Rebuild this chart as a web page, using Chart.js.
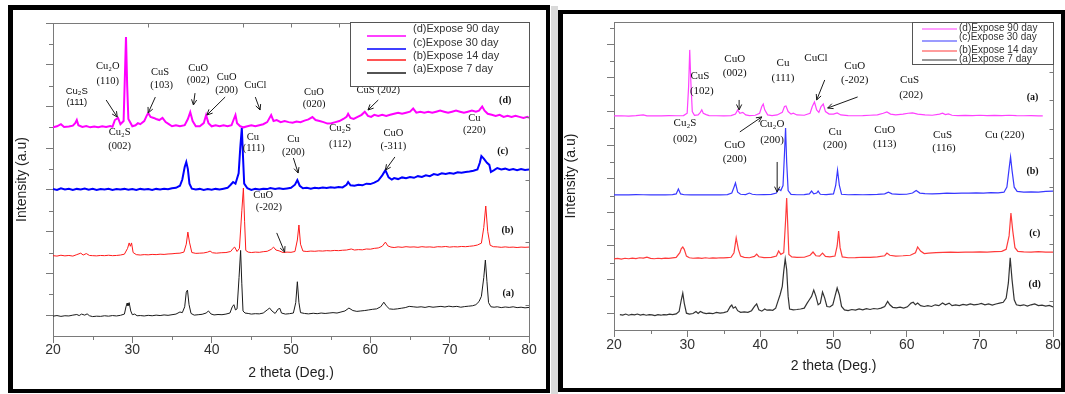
<!DOCTYPE html>
<html>
<head>
<meta charset="utf-8">
<script src="https://cdn.jsdelivr.net/npm/chart.js@4.4.0/dist/chart.umd.min.js"></script>
<style>
  html, body { margin: 0; padding: 0; background: #fff; }
  body { width: 1065px; height: 394px; position: relative; overflow: hidden; }
  .box { position: absolute; box-sizing: border-box; border: 4px solid #000; }
  #boxL { left: 8px; top: 5px; width: 542px; height: 388px; border-left-width: 5px; border-top-width: 5px; }
  #boxR { left: 558px; top: 10px; width: 507px; height: 382px; border-left-width: 5px; }
  #shade { position: absolute; left: 551px; top: 6px; width: 7px; height: 388px; background: #dadada; }
  canvas { position: absolute; top: 0; }
  #chartL { left: 0; }
  #chartR { left: 550px; }
</style>
</head>
<body>
<div id="shade"></div>
<div class="box" id="boxL"></div>
<div class="box" id="boxR"></div>
<canvas id="chartL" width="550" height="394"></canvas>
<canvas id="chartR" width="515" height="394"></canvas>
<script>
const xTicks = [20, 30, 40, 50, 60, 70, 80];
const seriesLabels = ['(d)Expose 90 day', '(c)Expose 30 day', '(b)Expose 14 day', '(a)Expose 7 day'];

// ---- left figure: [2 theta, intensity (stacked, a.u.)]
const L90 = [[20,10.0],[20.5,10.05],[21,10.15],[21.4,10.02],[22,10.04],[22.5,10.08],[22.8,10.2],[23,10.35],[23.2,10.1],[23.7,10.02],[24.2,10.06],[24.7,10.0],[25.2,10.04],[25.7,10.01],[26.2,10.05],[26.7,10.02],[27.2,10.06],[27.5,10.03],[27.8,10.35],[28.2,10.45],[28.5,10.15],[28.9,10.3],[29.05,12.3],[29.2,14.33],[29.35,12.0],[29.5,10.4],[30,10.05],[30.4,10.1],[30.7,10.2],[31,10.15],[31.5,10.3],[31.8,10.55],[32,10.69],[32.3,10.5],[32.7,10.45],[33,10.4],[33.4,10.35],[33.8,10.45],[34.2,10.25],[34.6,10.15],[35,10.05],[35.5,10.1],[36,10.05],[36.6,10.1],[37,10.4],[37.3,10.73],[37.6,10.3],[38,10.05],[38.5,10.05],[39,10.2],[39.3,10.59],[39.6,10.2],[40,10.05],[40.5,10.1],[41,10.05],[41.5,10.1],[42,10.05],[42.5,10.1],[42.8,10.4],[43,10.59],[43.2,10.2],[43.6,10.05],[44,10.0],[44.5,10.05],[45,10.1],[45.5,10.05],[46,10.1],[46.5,10.15],[47,10.25],[47.5,10.59],[47.8,10.3],[48.2,10.35],[48.7,10.25],[49.2,10.3],[49.7,10.25],[50.2,10.22],[50.7,10.28],[51.2,10.25],[51.7,10.32],[52.2,10.38],[52.7,10.49],[53.1,10.35],[53.6,10.3],[54.1,10.25],[54.6,10.18],[55.1,10.2],[55.6,10.25],[56.1,10.3],[56.6,10.4],[57,10.5],[57.2,10.65],[57.5,10.45],[57.9,10.4],[58.4,10.5],[58.9,10.6],[59.3,10.75],[59.7,10.55],[60.1,10.5],[60.5,10.6],[61,10.55],[61.5,10.6],[62,10.55],[62.5,10.6],[63,10.65],[63.5,10.7],[64,10.65],[64.5,10.7],[65,10.75],[65.4,10.9],[65.8,10.7],[66.3,10.75],[66.8,10.7],[67.3,10.75],[67.8,10.7],[68.3,10.75],[68.8,10.8],[69.3,10.75],[69.8,10.7],[70.3,10.75],[70.8,10.8],[71.3,10.75],[71.8,10.7],[72.3,10.75],[72.8,10.8],[73.3,10.75],[73.7,10.8],[74.1,11.0],[74.4,10.8],[74.8,10.65],[75.3,10.6],[75.8,10.55],[76.3,10.6],[76.8,10.5],[77.3,10.55],[77.8,10.5],[78.3,10.55],[78.8,10.5],[79.3,10.45],[79.8,10.5],[80,10.45]];
const L30 = [[20,7.04],[20.5,7.0],[21,7.08],[21.5,7.02],[22,7.06],[22.5,7.0],[23,7.05],[23.5,7.02],[24,7.07],[24.5,7.01],[25,7.05],[25.5,7.0],[26,7.04],[26.5,7.02],[27,7.06],[27.5,7.0],[28,7.04],[28.5,7.02],[29,7.05],[29.5,7.01],[30,7.04],[30.5,7.0],[31,7.05],[31.5,7.02],[32,7.04],[32.5,7.0],[33,7.05],[33.5,7.02],[34,7.06],[34.5,7.03],[35,7.08],[35.5,7.1],[36,7.2],[36.3,7.5],[36.6,8.1],[36.8,8.34],[37,8.0],[37.2,7.3],[37.5,7.06],[38,7.02],[38.5,7.05],[39,7.0],[39.5,7.04],[40,7.01],[40.5,7.05],[41,7.02],[41.5,7.06],[42,7.1],[42.4,7.25],[42.7,7.38],[43,7.3],[43.4,7.8],[43.6,9.0],[43.8,9.97],[43.95,8.6],[44.1,7.3],[44.5,7.08],[45,7.0],[45.5,7.05],[46,7.02],[46.5,7.06],[47,7.04],[47.4,7.09],[48,7.05],[48.5,7.08],[49,7.04],[49.5,7.07],[50,7.1],[50.5,7.25],[50.8,7.47],[51.1,7.2],[51.5,7.08],[52,7.1],[52.5,7.06],[53,7.1],[53.5,7.08],[54,7.12],[54.5,7.09],[55,7.13],[55.5,7.1],[56,7.14],[56.5,7.12],[57,7.25],[57.2,7.38],[57.5,7.22],[58,7.2],[58.5,7.25],[59,7.22],[59.5,7.3],[60,7.28],[60.5,7.35],[61,7.45],[61.5,7.7],[61.9,7.95],[62.3,7.6],[62.7,7.5],[63,7.57],[63.5,7.52],[64,7.6],[64.5,7.56],[65,7.62],[65.5,7.58],[66,7.66],[66.5,7.62],[67,7.7],[67.5,7.66],[68,7.76],[68.5,7.72],[69,7.8],[69.5,7.76],[70,7.81],[70.5,7.78],[71,7.85],[71.5,7.82],[72,7.86],[72.5,7.88],[73,7.92],[73.5,7.98],[73.8,8.3],[74,8.62],[74.3,8.5],[74.7,8.3],[75,8.2],[75.2,7.86],[75.6,7.95],[76,8.05],[76.5,7.98],[77,8.02],[77.5,7.96],[78,8.0],[78.5,7.94],[79,8.0],[79.5,7.96],[80,7.98]];
const L14 = [[20,3.85],[20.5,3.83],[21,3.87],[21.5,3.84],[22,3.86],[22.5,3.83],[23,3.9],[23.5,3.97],[23.8,3.88],[24.2,3.95],[24.6,3.86],[25,3.85],[25.5,3.84],[26,3.86],[26.5,3.85],[27,3.87],[27.5,3.85],[28,3.86],[28.5,3.88],[29,3.92],[29.4,4.2],[29.6,4.46],[29.75,4.3],[29.9,4.46],[30.1,4.0],[30.5,3.9],[31,3.88],[31.5,3.9],[32,3.89],[32.5,3.91],[33,3.9],[33.5,3.92],[34,3.91],[34.5,3.93],[35,3.94],[35.5,3.96],[36,3.97],[36.5,4.02],[36.8,4.4],[37.0,4.98],[37.2,4.5],[37.5,4.0],[38,3.96],[38.5,3.97],[39,3.98],[39.5,4.02],[39.8,4.07],[40.1,3.99],[40.6,3.97],[41.2,3.99],[41.8,4.0],[42.4,4.05],[42.7,4.2],[42.9,4.26],[43.2,4.05],[43.5,4.2],[43.8,6.0],[44.0,7.09],[44.15,5.5],[44.3,4.1],[44.6,4.02],[45,4.0],[45.5,4.02],[46,4.01],[46.5,4.04],[47,4.06],[47.5,4.15],[47.8,4.26],[48.1,4.12],[48.5,4.08],[49,4.0],[49.5,4.02],[50,4.01],[50.5,4.05],[50.8,4.6],[51,5.32],[51.2,4.4],[51.5,4.07],[52,4.05],[52.5,4.07],[53,4.06],[53.5,4.08],[54,4.07],[54.5,4.09],[55,4.08],[55.5,4.1],[56,4.09],[56.5,4.11],[57,4.12],[57.6,4.17],[58,4.12],[58.5,4.14],[59,4.13],[59.5,4.17],[60,4.16],[60.5,4.2],[61,4.22],[61.5,4.3],[61.9,4.5],[62.2,4.32],[62.6,4.26],[63,4.24],[63.5,4.27],[64,4.25],[64.5,4.28],[65,4.26],[65.5,4.27],[66,4.25],[66.5,4.28],[67,4.26],[67.5,4.27],[68,4.25],[68.5,4.28],[69,4.27],[69.5,4.29],[70,4.26],[70.5,4.28],[71,4.27],[71.5,4.29],[72,4.28],[72.5,4.3],[73,4.32],[73.5,4.36],[74,4.45],[74.3,5.2],[74.55,6.23],[74.8,5.0],[75.1,4.35],[75.5,4.28],[76,4.27],[76.5,4.25],[77,4.27],[77.5,4.25],[78,4.26],[78.5,4.24],[79,4.26],[79.5,4.25],[80,4.26]];
const L7 = [[20,0.95],[20.5,0.98],[21,0.94],[21.5,0.97],[22,0.96],[22.5,1.0],[23,1.03],[23.3,0.98],[23.6,1.05],[24,1.0],[24.3,1.06],[24.6,0.97],[25,0.93],[25.5,0.95],[26,0.94],[26.5,0.97],[27,0.95],[27.5,0.98],[28,0.96],[28.5,0.99],[29,1.05],[29.2,1.4],[29.35,1.58],[29.45,1.45],[29.6,1.6],[29.8,1.2],[30,1.02],[30.3,1.05],[30.6,0.97],[31,0.98],[31.5,0.96],[32,0.99],[32.5,0.97],[33,1.0],[33.5,0.98],[34,1.01],[34.5,0.99],[35,1.02],[35.5,1.05],[36,1.15],[36.3,1.12],[36.6,1.4],[36.8,2.1],[36.95,2.2],[37.15,1.5],[37.4,1.08],[37.8,1.0],[38.3,1.02],[38.8,1.04],[39.3,1.1],[39.6,1.2],[39.9,1.06],[40.3,1.01],[40.8,1.03],[41.3,1.02],[41.8,1.05],[42.3,1.1],[42.6,1.4],[42.8,1.5],[43.0,1.25],[43.2,1.3],[43.45,2.8],[43.65,4.1],[43.8,2.5],[43.95,1.2],[44.2,1.1],[44.6,1.08],[45,1.05],[45.5,1.07],[46,1.06],[46.5,1.1],[47,1.25],[47.3,1.34],[47.6,1.2],[48,1.08],[48.4,1.3],[48.6,1.32],[48.8,1.1],[49.3,1.05],[49.8,1.07],[50.3,1.1],[50.6,1.6],[50.8,2.6],[51,1.6],[51.2,1.12],[51.7,1.08],[52.2,1.06],[52.8,1.09],[53.3,1.07],[53.8,1.1],[54.3,1.08],[54.8,1.1],[55.3,1.12],[55.8,1.1],[56.3,1.15],[56.8,1.2],[57.3,1.34],[57.8,1.22],[58.3,1.18],[58.8,1.2],[59.3,1.22],[59.8,1.25],[60.3,1.28],[60.8,1.3],[61.3,1.4],[61.7,1.62],[62,1.45],[62.4,1.3],[62.9,1.28],[63.4,1.3],[63.9,1.33],[64.4,1.36],[64.9,1.42],[65.4,1.4],[65.9,1.38],[66.4,1.4],[66.9,1.37],[67.4,1.41],[67.9,1.38],[68.4,1.4],[68.9,1.42],[69.4,1.39],[69.9,1.43],[70.4,1.4],[70.9,1.42],[71.4,1.38],[71.9,1.41],[72.4,1.43],[72.9,1.45],[73.3,1.5],[73.7,1.65],[74,1.9],[74.3,2.8],[74.5,3.64],[74.7,2.6],[74.9,1.6],[75.2,1.4],[75.6,1.38],[76,1.4],[76.5,1.36],[77,1.39],[77.5,1.37],[78,1.4],[78.5,1.36],[79,1.38],[79.5,1.35],[80,1.37]];

const leftTags = [['(d)', 77.0, 11.3], ['(c)', 76.7, 8.86], ['(b)', 77.3, 5.08], ['(a)', 77.4, 2.06]];
const leftNotes = [
  ['Cu\u2082S', 23.0, 11.74, 'sans'], ['(111)', 23.0, 11.21, 'sans'],
  ['Cu\u2082O', 26.9, 12.94], ['(110)', 26.9, 12.22],
  ['CuS', 33.5, 12.65], ['(103)', 33.7, 12.03],
  ['CuO', 38.3, 12.84], ['(002)', 38.3, 12.27],
  ['CuO', 41.9, 12.41], ['(200)', 41.9, 11.79],
  ['CuCl', 45.5, 12.03],
  ['Cu\u2082S', 28.4, 9.77], ['(002)', 28.4, 9.10],
  ['Cu', 45.2, 9.54], ['(111)', 45.3, 9.01],
  ['CuO', 52.9, 11.69], ['(020)', 52.9, 11.12],
  ['CuS (202)', 61.0, 11.79],
  ['Cu\u2082S', 56.2, 9.97], ['(112)', 56.2, 9.2],
  ['CuO', 62.9, 9.73], ['(-311)', 62.9, 9.10],
  ['Cu', 73.1, 10.45], ['(220)', 73.1, 9.87],
  ['Cu', 50.3, 9.44], ['(200)', 50.3, 8.82],
  ['CuO', 46.5, 6.76], ['(-202)', 47.2, 6.18]
];
const leftArrows = [
  [26.7, 11.31, 28.1, 10.49], [32.9, 11.45, 32.0, 10.69], [37.9, 11.64, 37.7, 11.07],
  [41.7, 11.45, 39.4, 10.59], [45.5, 11.45, 46.1, 10.83], [61.0, 11.31, 59.7, 10.83],
  [63.1, 8.58, 61.9, 7.95], [50.3, 8.53, 50.9, 7.81], [48.2, 4.94, 49.2, 4.02]
];

// ---- right figure
const R90 = [[20,12.74],[21,12.75],[22,12.73],[23,12.76],[24,12.8],[24.5,12.74],[25.5,12.75],[26.5,12.74],[27.5,12.76],[28.5,12.75],[29.5,12.76],[30,12.9],[30.2,14.5],[30.35,16.67],[30.5,14.8],[30.7,13.0],[31,12.78],[31.5,12.8],[31.8,12.95],[32,13.1],[32.2,12.9],[32.6,12.82],[33,12.76],[34,12.75],[35,12.74],[36,12.76],[36.6,12.85],[36.9,13.1],[37.2,12.9],[37.6,12.95],[38,12.8],[38.5,12.76],[39.3,12.78],[39.9,12.9],[40.2,13.3],[40.4,13.45],[40.6,13.1],[41,12.8],[41.6,12.76],[42.3,12.8],[43,12.95],[43.3,13.3],[43.5,13.33],[43.8,13.0],[44.2,12.85],[44.5,12.9],[45,12.8],[46,12.78],[46.8,12.9],[47.1,13.3],[47.4,13.57],[47.7,13.1],[48,12.95],[48.3,13.3],[48.6,13.45],[48.9,13.0],[49.4,12.85],[50,12.85],[50.5,12.92],[51,12.8],[52,12.76],[53,12.75],[54,12.76],[55,12.78],[56,12.8],[56.8,12.9],[57.3,12.98],[57.8,12.85],[58.5,12.8],[59.5,12.85],[60.2,12.9],[60.8,12.92],[61.5,12.85],[62.5,12.8],[63.5,12.78],[64.5,12.85],[64.9,12.9],[65.3,12.82],[65.7,12.86],[66.2,12.78],[67,12.76],[68,12.77],[69,12.76],[70,12.78],[71,12.76],[72,12.77],[73,12.76],[74,12.78],[75,12.76],[76,12.75],[77,12.76],[78,12.74],[78.6,12.74]];
const R30 = [[20,8.04],[21,8.05],[22,8.04],[23,8.06],[24,8.05],[25,8.04],[26,8.05],[27,8.04],[28,8.06],[28.5,8.1],[28.8,8.39],[29.1,8.1],[29.6,8.05],[30.5,8.04],[31.5,8.05],[32.5,8.04],[33.5,8.05],[34.5,8.04],[35.5,8.06],[36.1,8.15],[36.4,8.5],[36.6,8.75],[36.9,8.2],[37.3,8.08],[38,8.06],[38.5,8.15],[38.9,8.08],[39.5,8.05],[40.5,8.06],[41.5,8.07],[42.2,8.15],[42.5,8.39],[42.8,8.3],[43.1,8.6],[43.3,10.5],[43.45,12.02],[43.6,10.0],[43.8,8.3],[44.2,8.07],[45,8.05],[46,8.06],[46.7,8.1],[47,8.27],[47.3,8.1],[47.7,8.15],[47.9,8.27],[48.2,8.08],[49,8.06],[50,8.1],[50.3,8.6],[50.55,9.52],[50.8,8.6],[51.1,8.08],[52,8.05],[53,8.06],[54,8.05],[55,8.06],[56,8.07],[57,8.1],[57.5,8.2],[58,8.1],[59,8.07],[60,8.08],[60.8,8.15],[61.3,8.3],[61.8,8.15],[62.5,8.12],[63.5,8.1],[64.5,8.12],[65.5,8.14],[66.5,8.13],[67.5,8.15],[68.5,8.14],[69.5,8.16],[70.5,8.15],[71.5,8.17],[72.5,8.16],[73.3,8.2],[73.7,8.5],[74,9.6],[74.2,10.3],[74.4,9.5],[74.7,8.5],[75.1,8.25],[76,8.2],[77,8.22],[78,8.21],[79,8.25],[80,8.27]];
const R14 = [[20,4.23],[20.5,4.26],[21,4.22],[21.5,4.27],[22,4.24],[22.5,4.28],[23,4.25],[23.5,4.3],[24,4.28],[24.5,4.34],[25,4.26],[25.5,4.24],[26,4.27],[26.5,4.25],[27,4.28],[27.5,4.26],[28,4.29],[28.5,4.32],[29,4.6],[29.2,4.85],[29.4,4.94],[29.6,4.8],[29.9,4.4],[30.3,4.3],[30.8,4.27],[31.5,4.29],[32,4.26],[32.5,4.3],[33,4.27],[33.5,4.29],[34,4.28],[34.5,4.3],[35,4.29],[35.5,4.31],[36,4.33],[36.4,4.6],[36.7,5.48],[37,4.8],[37.3,4.4],[37.8,4.32],[38.5,4.3],[39.2,4.38],[39.5,4.52],[39.8,4.36],[40.5,4.31],[41.5,4.32],[42.2,4.4],[42.5,4.7],[42.8,4.5],[43.2,4.6],[43.45,6.5],[43.6,7.86],[43.75,6.2],[43.9,4.5],[44.3,4.35],[45,4.32],[46,4.33],[46.8,4.45],[47.2,4.64],[47.6,4.42],[48.1,4.4],[48.5,4.58],[48.9,4.38],[49.5,4.35],[50.2,4.4],[50.5,5.0],[50.7,5.89],[50.9,4.9],[51.2,4.35],[52,4.3],[53,4.31],[54,4.33],[55,4.32],[56,4.35],[57,4.42],[57.3,4.58],[57.7,4.45],[58.5,4.4],[59.5,4.42],[60.5,4.45],[61.2,4.6],[61.5,4.94],[61.9,4.7],[62.4,4.55],[63,4.58],[64,4.6],[65,4.62],[66,4.63],[67,4.62],[68,4.64],[69,4.63],[70,4.65],[71,4.64],[72,4.66],[73,4.68],[73.6,4.8],[74,5.6],[74.25,6.96],[74.5,5.9],[74.8,4.9],[75.2,4.68],[76,4.65],[77,4.64],[78,4.66],[79,4.63],[80,4.64]];
const R7 = [[20.8,0.92],[21.2,0.89],[21.6,0.95],[22,0.88],[22.4,0.93],[22.8,0.9],[23.2,0.95],[23.6,0.89],[24,0.93],[24.4,0.88],[24.8,0.92],[25.2,0.9],[25.6,0.86],[26,0.91],[26.4,0.88],[26.8,0.92],[27.2,0.9],[27.6,0.94],[28,0.92],[28.5,0.96],[28.9,1.1],[29.2,1.8],[29.4,2.2],[29.6,1.6],[29.9,1.0],[30.3,0.95],[30.8,0.98],[31.2,1.1],[31.5,0.98],[31.8,1.1],[32.2,1.02],[32.6,0.97],[33,1.0],[33.5,0.97],[34,1.05],[34.5,1.0],[35,1.03],[35.5,1.1],[35.9,1.4],[36.1,1.49],[36.3,1.3],[36.6,1.38],[36.9,1.15],[37.3,1.05],[37.8,1.08],[38.3,1.05],[38.8,1.15],[39.2,1.4],[39.5,1.55],[39.8,1.2],[40.2,1.12],[40.6,1.25],[40.9,1.18],[41.3,1.2],[41.7,1.17],[42.1,1.3],[42.4,1.7],[42.7,2.1],[43,2.6],[43.2,3.5],[43.4,4.23],[43.6,3.6],[43.8,2.0],[44,1.25],[44.5,1.2],[45,1.22],[45.5,1.25],[46,1.3],[46.4,1.6],[46.7,1.8],[47,2.0],[47.3,2.38],[47.6,2.0],[47.9,1.5],[48.2,1.6],[48.5,2.26],[48.8,1.9],[49.1,1.4],[49.5,1.37],[49.9,1.5],[50.2,2.0],[50.5,2.5],[50.8,2.1],[51.1,1.4],[51.5,1.2],[52,1.15],[52.5,1.22],[53,1.18],[53.5,1.25],[54,1.2],[54.5,1.27],[55,1.22],[55.5,1.28],[56,1.25],[56.5,1.3],[57,1.4],[57.4,1.7],[57.7,1.5],[58.1,1.35],[58.6,1.32],[59.1,1.36],[59.6,1.3],[60.1,1.38],[60.6,1.6],[60.9,1.65],[61.2,1.5],[61.5,1.6],[61.9,1.45],[62.4,1.4],[62.9,1.45],[63.4,1.4],[63.9,1.5],[64.4,1.45],[64.9,1.61],[65.3,1.5],[65.8,1.6],[66.2,1.45],[66.7,1.5],[67.2,1.45],[67.7,1.52],[68.2,1.48],[68.7,1.55],[69.2,1.5],[69.7,1.52],[70.2,1.58],[70.7,1.5],[71.2,1.55],[71.7,1.48],[72.2,1.55],[72.7,1.6],[73.2,1.65],[73.6,1.9],[73.9,2.8],[74.15,4.29],[74.4,3.0],[74.7,1.8],[75,1.5],[75.5,1.45],[76,1.5],[76.5,1.42],[77,1.5],[77.5,1.55],[78,1.45],[78.5,1.48],[79,1.42],[79.5,1.46],[80,1.37]];

const rightTags = [['(a)', 77.2, 13.87], ['(b)', 77.2, 9.46], ['(c)', 77.5, 5.77], ['(d)', 77.5, 2.74]];
const rightNotes = [
  ['CuS', 31.75, 15.12], ['(102)', 32.0, 14.23],
  ['CuO', 36.5, 16.13], ['(002)', 36.5, 15.3],
  ['Cu', 43.1, 15.89], ['(111)', 43.1, 15.0],
  ['CuCl', 47.6, 16.19],
  ['CuO', 52.9, 15.71], ['(-202)', 52.9, 14.88],
  ['CuS', 60.4, 14.88], ['(202)', 60.6, 13.99],
  ['Cu\u2082S', 29.7, 12.32], ['(002)', 29.7, 11.37],
  ['CuO', 36.5, 11.01], ['(200)', 36.5, 10.18],
  ['Cu\u2082O', 41.6, 12.26], ['(200)', 41.6, 11.31],
  ['Cu', 50.2, 11.79], ['(200)', 50.2, 11.01],
  ['CuO', 57.0, 11.9], ['(113)', 57.0, 11.07],
  ['CuS', 64.9, 11.6], ['(116)', 65.1, 10.83],
  ['Cu (220)', 73.4, 11.6]
];
const rightArrows = [
  [37.1, 13.69, 37.1, 13.1], [48.8, 14.88, 47.7, 13.69], [53.3, 13.87, 49.2, 13.21],
  [37.2, 11.79, 40.2, 12.68], [42.3, 10.0, 42.3, 8.21]
];

function drawArrow(ctx, x1, y1, x2, y2) {
    const ang = Math.atan2(y2 - y1, x2 - x1), h = 6;
    ctx.beginPath();
    ctx.moveTo(x1, y1);
    ctx.lineTo(x2, y2);
    ctx.moveTo(x2 - h * Math.cos(ang - 0.45), y2 - h * Math.sin(ang - 0.45));
    ctx.lineTo(x2, y2);
    ctx.lineTo(x2 - h * Math.cos(ang + 0.45), y2 - h * Math.sin(ang + 0.45));
    ctx.stroke();
}

// frame, minor ticks, peak notes, curve tags and the boxed legend
const xrdDecor = {
    id: 'xrdDecor',
    afterDraw(chart, args, o) {
        const { ctx, chartArea: a } = chart;
        const px = v => chart.scales.x.getPixelForValue(v);
        const py = v => chart.scales.y.getPixelForValue(v);
        ctx.save();
        ctx.strokeStyle = o.axisColor;
        ctx.lineWidth = 1;
        ctx.beginPath();
        const r = Math.round(a.right) + 0.5, t = Math.round(a.top) + 0.5;
        ctx.moveTo(a.left, t); ctx.lineTo(r, t);
        ctx.moveTo(r, a.top); ctx.lineTo(r, a.bottom);
        o.minorX.forEach(v => { const x = Math.round(px(v)) + 0.5; ctx.moveTo(x, a.bottom); ctx.lineTo(x, a.bottom + o.minorLen); });
        o.minorY.forEach(v => { const y = Math.round(py(v)) + 0.5; ctx.moveTo(a.left - o.minorLen, y); ctx.lineTo(a.left, y); });
        o.rightY.forEach(v => { const y = Math.round(py(v)) + 0.5; ctx.moveTo(r - o.innerLen, y); ctx.lineTo(r, y); });
        o.topX.forEach(v => { const x = Math.round(px(v)) + 0.5; ctx.moveTo(x, t); ctx.lineTo(x, t + o.innerLen); });
        ctx.stroke();

        ctx.strokeStyle = '#1a1a1a';
        o.arrows.forEach(([x1, y1, x2, y2]) => drawArrow(ctx, px(x1), py(y1), px(x2), py(y2)));

        ctx.fillStyle = '#111';
        ctx.textAlign = 'center';
        ctx.textBaseline = 'middle';
        o.notes.forEach(([txt, x, y, f]) => {
            ctx.font = f === 'sans' ? o.sansFont : o.noteFont;
            ctx.fillText(txt, px(x), py(y));
        });
        ctx.font = o.tagFont;
        o.tags.forEach(([txt, x, y]) => ctx.fillText(txt, px(x), py(y)));

        const L = o.legend;
        const bx = Math.round(a.right) - L.w, by = Math.round(a.top) + L.dy;
        ctx.fillStyle = '#fff';
        ctx.fillRect(bx, by, L.w, L.h);
        ctx.strokeStyle = '#555';
        ctx.strokeRect(bx + 0.5, by + 0.5, L.w, L.h);
        ctx.textAlign = 'left';
        ctx.font = L.font;
        chart.data.datasets.forEach((ds, i) => {
            ctx.strokeStyle = ds.borderColor;
            ctx.lineWidth = L.lw;
            ctx.beginPath();
            ctx.moveTo(bx + L.x1, by + L.lineY[i]);
            ctx.lineTo(bx + L.x2, by + L.lineY[i]);
            ctx.stroke();
            ctx.fillStyle = '#333';
            ctx.fillText(ds.label, bx + L.tx, by + L.textY[i]);
        });
        ctx.restore();
    }
};

const axisColor = '#7a7a7a';

function makeChart(id, s) {
    const datasets = s.series.map((pts, i) => ({
        label: seriesLabels[i],
        data: pts.map(([x, y]) => ({ x, y })),
        borderColor: s.colors[i],
        borderWidth: s.widths[i],
        pointRadius: 0,
        fill: false,
        tension: 0
    }));
    return new Chart(document.getElementById(id), {
        type: 'line',
        data: { datasets },
        plugins: [xrdDecor],
        options: {
            responsive: false,
            animation: false,
            devicePixelRatio: 1,
            layout: { padding: s.padding },
            scales: {
                x: {
                    type: 'linear',
                    min: 20,
                    max: 80,
                    afterBuildTicks: sc => { sc.ticks = xTicks.map(v => ({ value: v })); },
                    afterFit: sc => { sc.height = s.xAxisH; },
                    grid: { drawOnChartArea: false, tickLength: 7, color: axisColor },
                    border: { color: axisColor },
                    ticks: { autoSkip: false, maxRotation: 0, padding: s.tickPad, color: '#333', font: { family: 'Liberation Sans', size: 14 } },
                    title: { display: true, text: '2 theta (Deg.)', color: '#222', font: { family: 'Liberation Sans', size: 14 }, padding: { top: 0, bottom: s.xTitlePad } }
                },
                y: {
                    type: 'linear',
                    min: 0,
                    max: s.yMax,
                    afterBuildTicks: sc => { sc.ticks = s.yMajor.map(v => ({ value: v })); },
                    afterFit: sc => { sc.width = s.yAxisW; },
                    grid: { drawOnChartArea: false, tickLength: 7, color: axisColor },
                    border: { color: axisColor },
                    ticks: { display: false },
                    title: { display: true, text: 'Intensity (a.u)', color: '#222', font: { family: 'Liberation Sans', size: 14 }, padding: { top: s.yTitlePad, bottom: 0 } }
                }
            },
            plugins: {
                legend: { display: false },
                tooltip: { enabled: false },
                xrdDecor: {
                    axisColor,
                    minorLen: 4,
                    innerLen: 4,
                    minorX: [25, 35, 45, 55, 65, 75],
                    minorY: s.yMinor,
                    rightY: s.rightY,
                    topX: s.topX,
                    notes: s.notes,
                    arrows: s.arrows,
                    tags: s.tags,
                    noteFont: s.noteFont,
                    sansFont: '9.5px "Liberation Sans"',
                    tagFont: 'bold 10px "Liberation Serif"',
                    legend: s.legend
                }
            }
        }
    });
}

makeChart('chartL', {
    series: [L90, L30, L14, L7],
    colors: ['#ff00ff', '#0000ff', '#ff1a1a', '#1a1a1a'],
    widths: [2, 2, 1, 1],
    padding: { left: 0, top: 23, right: 21, bottom: 0 },
    xAxisH: 58, yAxisW: 53, tickPad: -1, xTitlePad: 12.6, yTitlePad: 13.6,
    yMax: 15,
    yMajor: [1, 3, 5, 7, 9, 11, 13, 15],
    yMinor: [2, 4, 6, 8, 10, 12, 14],
    rightY: [1.5, 3, 4.5, 6, 7.5, 9, 10.5, 12, 13.5],
    topX: [20, 32, 44, 50, 56],
    notes: leftNotes, arrows: leftArrows, tags: leftTags,
    noteFont: '10.5px "Liberation Serif"',
    legend: { w: 179, h: 64, dy: -1, x1: 17, x2: 56, tx: 63, lw: 1.5, font: '11px "Liberation Sans"',
              textY: [7, 21, 34, 47], lineY: [14, 27, 38, 51] }
});

makeChart('chartR', {
    series: [R90, R30, R14, R7],
    colors: ['#ff40ff', '#3838ff', '#ff3b3b', '#333333'],
    widths: [1.2, 1.2, 1.2, 1.2],
    padding: { left: 0, top: 22, right: 12, bottom: 0 },
    xAxisH: 64, yAxisW: 64, tickPad: 0, xTitlePad: 19, yTitlePad: 12.6,
    yMax: 18.33,
    yMajor: [1, 3, 5, 7, 9, 11, 13, 15, 17],
    yMinor: [2, 4, 6, 8, 10, 12, 14, 16, 18],
    rightY: [1.71, 3.42, 5.12, 6.83, 8.54, 10.25, 11.96, 13.66, 15.37, 17.08],
    topX: [],
    notes: rightNotes, arrows: rightArrows, tags: rightTags,
    noteFont: '11px "Liberation Serif"',
    legend: { w: 141, h: 42, dy: 0, x1: 10, x2: 45, tx: 47, lw: 1.2, font: '10px "Liberation Sans"',
              textY: [6, 15, 28, 37], lineY: [7, 19, 29, 38] }
});
</script>
</body>
</html>
